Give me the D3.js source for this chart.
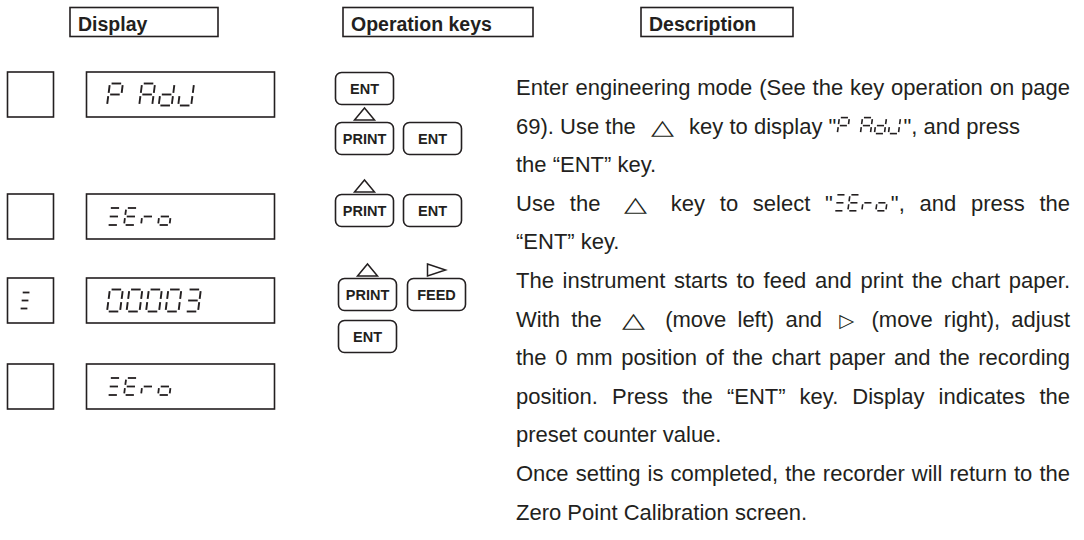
<!DOCTYPE html>
<html><head><meta charset="utf-8">
<script src="https://cdn.jsdelivr.net/npm/d3@7"></script>
<style>body{margin:0;background:#fff}svg{display:block}</style>
</head><body><svg id="c" width="1084" height="540"></svg>
<script>
// ---------- data ----------
const headers = ["Display", "Operation keys", "Description"];
const displayTexts = ["P AdJ", "ZEro", "00003", "ZEro"];
const indicatorTexts = ["", "", "Z", ""];
const keyRows = [
  [["ENT"], ["PRINT", "ENT"]],
  [["PRINT", "ENT"]],
  [["PRINT", "FEED"], ["ENT"]],
  []
];
const keyMarks = [
  [[""], ["up", ""]],
  [["up", ""]],
  [["up", "right"], [""]],
  []
];
const descLines = [
  "Enter engineering mode (See the key operation on page",
  "69). Use the △ key to display \"[P AdJ]\", and press",
  "the “ENT” key.",
  "Use the △ key to select \"[ZEro]\", and press the",
  "“ENT” key.",
  "The instrument starts to feed and print the chart paper.",
  "With the △ (move left) and ▷ (move right), adjust",
  "the 0 mm position of the chart paper and the recording",
  "position. Press the “ENT” key. Display indicates the",
  "preset counter value.",
  "Once setting is completed, the recorder will return to the",
  "Zero Point Calibration screen."
];
const justified = [true, false, false, true, false, true, true, true, true, false, true, false];

// ---------- layout ----------
const ink = "#231f20";
const svg = d3.select("#c");
const FONT = "'Liberation Sans', Arial, Helvetica, sans-serif";

// headers
const headerBoxes = [[70, 218], [343, 533], [641, 793]];
const hdr = svg.append("g");
headers.forEach((t, i) => {
  const [x0, x1] = headerBoxes[i];
  hdr.append("rect").attr("x", x0).attr("y", 7.5).attr("width", x1 - x0).attr("height", 29)
    .attr("fill", "none").attr("stroke", ink).attr("stroke-width", 1.6);
  hdr.append("text").attr("x", x0 + 8).attr("y", 30.5).text(t)
    .attr("font-family", FONT).attr("font-weight", "bold").attr("font-size", 19.5).attr("fill", ink);
});

// seven segment drawing
const segMap = {P:"abfge", A:"abcefg", d:"bcdeg", J:"bcde", Z:"agd", E:"adefg", r:"eg", o:"cdeg", "0":"abcdef", "3":"abcdg"};
function seg7(g, str, x0, yBot, h, w, adv, sw) {
  const slant = 0.13, gp = sw * 0.9;
  const pt = (x, px, py) => [x + px + (h - py) * slant, yBot - h + py];
  const segDefs = {
    a: [[gp, 0], [w - gp, 0]],
    b: [[w, gp], [w, h / 2 - gp]],
    c: [[w, h / 2 + gp], [w, h - gp]],
    d: [[gp, h], [w - gp, h]],
    e: [[0, h / 2 + gp], [0, h - gp]],
    f: [[0, gp], [0, h / 2 - gp]],
    g: [[gp, h / 2], [w - gp, h / 2]]
  };
  let x = x0;
  for (const ch of str) {
    if (ch === " ") { x += adv * 0.65; continue; }
    for (const s of (segMap[ch] || "")) {
      const [p1, p2] = segDefs[s];
      const a = pt(x, p1[0], p1[1]), b = pt(x, p2[0], p2[1]);
      g.append("line").attr("x1", a[0]).attr("y1", a[1]).attr("x2", b[0]).attr("y2", b[1])
        .attr("stroke", ink).attr("stroke-width", sw).attr("stroke-linecap", "butt");
    }
    x += adv;
  }
  return x - x0;
}
function seg7Width(str, adv) {
  let x = 0;
  for (const ch of str) x += ch === " " ? adv * 0.65 : adv;
  return x;
}

// rows
const rowTop = d3.scaleOrdinal().domain(d3.range(4)).range([72, 194, 278, 364]);
const boxH = 45;
const segStyle = [
  {h: 22, w: 13, adv: 19.5, sw: 1.9},
  {h: 17, w: 11.5, adv: 17, sw: 1.8},
  {h: 22, w: 13, adv: 19.5, sw: 1.9},
  {h: 17, w: 11.5, adv: 17, sw: 1.8}
];
const rowsG = svg.append("g");
displayTexts.forEach((t, i) => {
  const y = rowTop(i);
  const g = rowsG.append("g");
  g.append("rect").attr("x", 7.5).attr("y", y).attr("width", 46).attr("height", boxH)
    .attr("fill", "none").attr("stroke", ink).attr("stroke-width", 1.6);
  g.append("rect").attr("x", 86.5).attr("y", y).attr("width", 188).attr("height", boxH)
    .attr("fill", "none").attr("stroke", ink).attr("stroke-width", 1.6);
  const st = segStyle[i];
  const yb = y + boxH / 2 + st.h / 2;
  const sg = g.append("g").attr("aria-label", t);
  sg.append("title").text(t);
  seg7(sg, t, 107, yb, st.h, st.w, st.adv, st.sw);
  if (indicatorTexts[i]) {
    const ig = g.append("g").attr("aria-label", indicatorTexts[i]);
    seg7(ig, indicatorTexts[i], 19, y + boxH / 2 + 8, 16, 10, 15, 1.8);
  }
});

// keys
const keysG = svg.append("g");
const keyW = 58, keyH = 32;
const keyRowTops = [[72, 122], [194], [278, 320], []];
const keyColX = [[335, 403], [335, 403], [338, 407], []];
keyRows.forEach((rowsK, i) => {
  rowsK.forEach((keys, r) => {
    const ky = keyRowTops[i][r];
    keys.forEach((k, c) => {
      const kx = keyColX[i][c];
      keysG.append("rect").attr("x", kx + 0.5).attr("y", ky + 0.5).attr("width", keyW).attr("height", keyH)
        .attr("rx", 6).attr("fill", "none").attr("stroke", ink).attr("stroke-width", 1.6);
      keysG.append("text").attr("x", kx + keyW / 2 + 0.5).attr("y", ky + keyH / 2 + 5.5)
        .attr("text-anchor", "middle").text(k)
        .attr("font-family", FONT).attr("font-weight", "bold").attr("font-size", 14.5).attr("fill", ink);
      const mk = keyMarks[i][r][c];
      const cx = kx + keyW / 2 + 0.5;
      if (mk === "up") {
        keysG.append("path").attr("d", `M${cx - 10},${ky - 2} L${cx + 10},${ky - 2} L${cx},${ky - 14} Z`)
          .attr("fill", "none").attr("stroke", ink).attr("stroke-width", 1.5).attr("stroke-linejoin", "miter");
      } else if (mk === "right") {
        keysG.append("path").attr("d", `M${cx - 9},${ky - 14} L${cx + 9},${ky - 8} L${cx - 9},${ky - 2} Z`)
          .attr("fill", "none").attr("stroke", ink).attr("stroke-width", 1.5);
      }
    });
  });
});

// description
const descG = svg.append("g");
const fs = 22;
const left = 516, right = 1070;
const lineY = d3.scaleLinear().domain([0, 11]).range([95, 95 + 11 * 38.6]);
const meas = svg.append("text").attr("font-family", FONT).attr("font-size", fs).attr("visibility", "hidden");
function textW(s, fam) {
  meas.attr("font-family", fam || FONT).text(s);
  return meas.node().getComputedTextLength();
}
const SYMFONT = "'DejaVu Sans', sans-serif";
const sym = {"△": {len: 23, fsz: 21, pad: 9}, "▷": {len: 15, fsz: 19, pad: 6}};
const dSeg = {h: 16, w: 10, adv: 14, sw: 1.6};
function parseLine(s) {
  const re = /\[[^\]]*\]|[^\s\[]+/g;
  let m; const toks = [];
  while ((m = re.exec(s))) toks.push({s: m[0], start: m.index, end: m.index + m[0].length});
  const words = [];
  toks.forEach((t, i) => {
    if (i > 0 && toks[i - 1].end === t.start) words[words.length - 1].push(t.s);
    else words.push([t.s]);
  });
  return words;
}
function pieceW(p) {
  if (p[0] === "[") return seg7Width(p.slice(1, -1), dSeg.adv) + 2;
  if (sym[p]) return sym[p].len + sym[p].pad * 2;
  return textW(p);
}
const spaceW = textW("a a") - textW("aa");
descLines.forEach((line, i) => {
  const words = parseLine(line);
  const widths = words.map(wd => d3.sum(wd, pieceW));
  const total = d3.sum(widths);
  const gap = justified[i] && words.length > 1 ? (right - left - total) / (words.length - 1) : spaceW;
  const yb = lineY(i);
  let x = left;
  words.forEach((wd) => {
    wd.forEach(p => {
      const pw = pieceW(p);
      if (p[0] === "[") {
        const sg = descG.append("g").attr("aria-label", p.slice(1, -1));
        sg.append("title").text(p.slice(1, -1));
        seg7(sg, p.slice(1, -1), x + 1, yb, dSeg.h, dSeg.w, dSeg.adv, dSeg.sw);
      } else if (sym[p]) {
        descG.append("text").attr("x", x + sym[p].pad).attr("y", yb).text(p)
          .attr("textLength", sym[p].len).attr("lengthAdjust", "spacingAndGlyphs")
          .attr("font-family", SYMFONT).attr("font-size", sym[p].fsz).attr("fill", ink);
      } else {
        descG.append("text").attr("x", x).attr("y", yb).text(p)
          .attr("font-family", FONT).attr("font-size", fs).attr("fill", ink);
      }
      x += pw;
    });
    x += gap;
  });
});
meas.remove();
</script></body></html>
